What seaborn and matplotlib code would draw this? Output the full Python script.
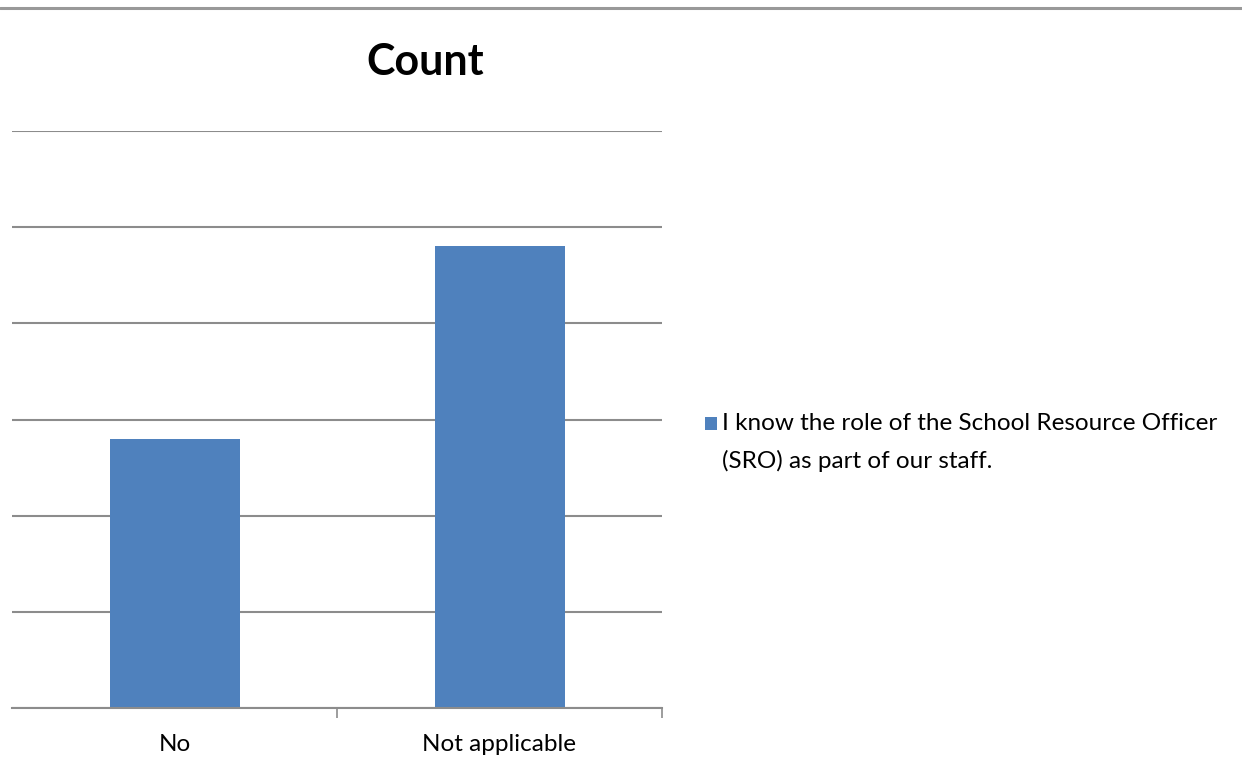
import matplotlib
matplotlib.use("Agg")
import matplotlib.pyplot as plt
import seaborn as sns
import pandas as pd
from matplotlib.lines import Line2D

categories = ["No", "Not applicable"]
counts = [2.8, 4.8]
series_name = "I know the role of the School Resource Officer\n(SRO) as part of our staff."
title = "Count"

sns.set_theme(style="white")
plt.rcParams['font.family'] = ['Lato', 'DejaVu Sans']

df = pd.DataFrame({"category": categories, "count": counts, "series": series_name})

fig = plt.figure(figsize=(12.42, 7.78), dpi=100)
ax = fig.add_axes([12/1242, 1 - 708/778, 650/1242, (708-131)/778])

sns.barplot(data=df, x="category", y="count", hue="series", palette=["#4F81BD"],
            width=0.40, ax=ax, saturation=1, linewidth=0)

ax.set_ylim(0, 6)
ax.set_xlim(-0.5, 1.5)
ax.set_yticks([0, 1, 2, 3, 4, 5, 6])
ax.set_yticklabels([])
ax.tick_params(axis='y', length=0)
ax.yaxis.grid(True, color="#8c8c8c", linewidth=1.5)
ax.set_axisbelow(True)
for s in ["left", "right", "top"]:
    ax.spines[s].set_visible(False)
ax.spines["bottom"].set_color("#8c8c8c")
ax.spines["bottom"].set_linewidth(1.5)
ax.set_xlabel("")
ax.set_ylabel("")
ax.set_xticks([0, 1])
ax.set_xticklabels(categories, fontsize=17.5, color="black")
ax.tick_params(axis='x', which='major', bottom=False, length=0, pad=19)
ax.set_xticks([0.5, 1.5], minor=True)
ax.tick_params(axis='x', which='minor', bottom=True, length=7, width=1.2,
               color="#8c8c8c", direction='out')

fig.text(425/1242, 1 - 62/778, title, ha="center", va="center", fontsize=31,
         fontweight="bold", color="black")

fig.add_artist(Line2D([0, 1], [1 - 8/778, 1 - 8/778], transform=fig.transFigure,
                      color="#999999", linewidth=2.2))

fs = 17.5
ls = 1.9
leg = ax.legend(loc="upper left", bbox_to_anchor=(705/1242, 1 - 413/778),
                bbox_transform=fig.transFigure, frameon=False, fontsize=fs,
                handlelength=0.5, handleheight=0.5, handletextpad=0.18,
                borderpad=0, borderaxespad=0)
for t in leg.get_texts():
    t.set_color("black")
    t.set_linespacing(ls)
for p in leg.get_patches():
    p.set_y(p.get_y() + 13.7)

fig.savefig("out.png", dpi=100)
